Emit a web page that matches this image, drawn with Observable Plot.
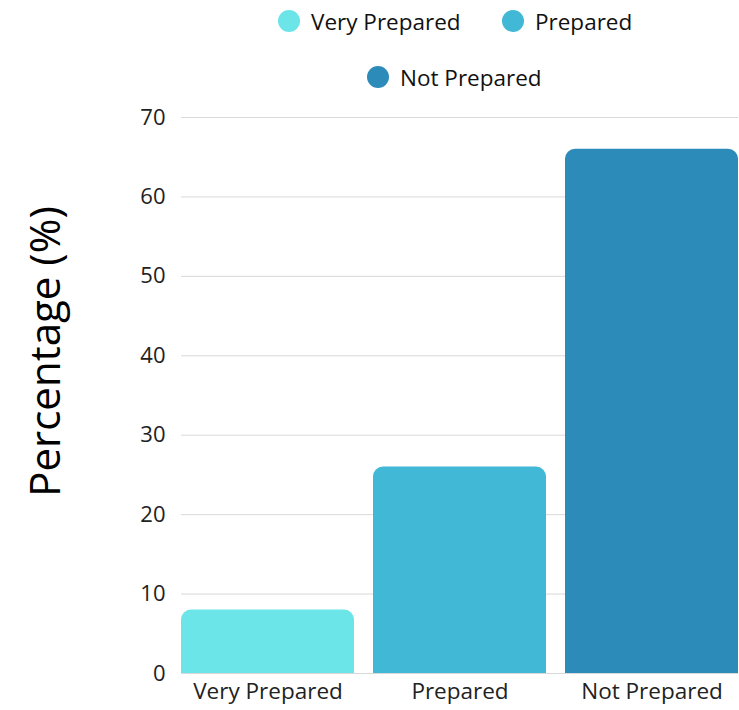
<!DOCTYPE html>
<html>
<head>
<meta charset="utf-8">
<script src="https://cdn.jsdelivr.net/npm/d3@7"></script>
<script src="https://cdn.jsdelivr.net/npm/@observablehq/plot@0.6"></script>
<style>
  html, body { margin: 0; padding: 0; background: #fff; }
  body { width: 739px; height: 710px; overflow: hidden; font-family: "Open Sans", Lato, sans-serif; }
  #legend { position: relative; width: 739px; height: 100px; }
  .item { position: absolute; display: flex; align-items: center; font-size: 22.5px; color: #111; white-space: nowrap; }
  .dot { width: 22px; height: 22px; border-radius: 50%; margin-right: 11px; }
</style>
</head>
<body>
<div id="legend"></div>
<div id="chart"></div>
<script>
const categories = ["Very Prepared", "Prepared", "Not Prepared"];
const percentages = [8, 26, 66];
const colors = ["#6ce5e8", "#41b8d5", "#2d8bba"];
const yTicks = [0, 10, 20, 30, 40, 50, 60, 70];

const data = categories.map((c, i) => ({category: c, value: percentages[i]}));

// legend
const legendPos = [
  {left: 278, top: 10},
  {left: 502, top: 10},
  {left: 367, top: 66}
];
const legend = document.getElementById("legend");
categories.forEach((c, i) => {
  const it = document.createElement("div");
  it.className = "item";
  it.style.left = legendPos[i].left + "px";
  it.style.top = (legendPos[i].top - 4) + "px";
  it.style.height = "30px";
  const d = document.createElement("span");
  d.className = "dot";
  d.style.background = colors[i];
  const t = document.createElement("span");
  t.textContent = c;
  it.appendChild(d); it.appendChild(t);
  legend.appendChild(it);
});

const chart = Plot.plot({
  width: 739,
  height: 610,
  marginTop: 17,
  marginBottom: 37,
  marginLeft: 181,
  marginRight: 1,
  style: {fontFamily: "'Open Sans', Lato, sans-serif", fontSize: "22px", color: "#222", background: "#fff", overflow: "visible"},
  x: {domain: categories, paddingInner: 0.1, paddingOuter: 0, label: null, tickSize: 0, tickPadding: 8},
  y: {domain: [0, 70], ticks: yTicks, label: null, tickSize: 0, tickPadding: 16},
  color: {domain: categories, range: colors},
  marks: [
    Plot.gridY(yTicks, {stroke: "#d9d9d9", strokeOpacity: 1, strokeWidth: 1}),
    Plot.barY(data, {x: "category", y: "value", fill: "category", ry1: 10, rx1y1: 10, rx2y1: 10}),
    Plot.ruleY([0], {stroke: "#d9d9d9"}),
    Plot.axisY({ticks: yTicks, tickSize: 0, tickPadding: 16, label: null, fontSize: 22}),
    Plot.axisX({tickSize: 0, tickPadding: 10, label: null, fontSize: 22.5}),
    Plot.text(["Percentage (%)"], {frameAnchor: "left", textAnchor: "middle", dx: -135, dy: -44, rotate: -90, fontSize: 42, fill: "#000"})
  ]
});
document.getElementById("chart").appendChild(chart);
</script>
</body>
</html>
